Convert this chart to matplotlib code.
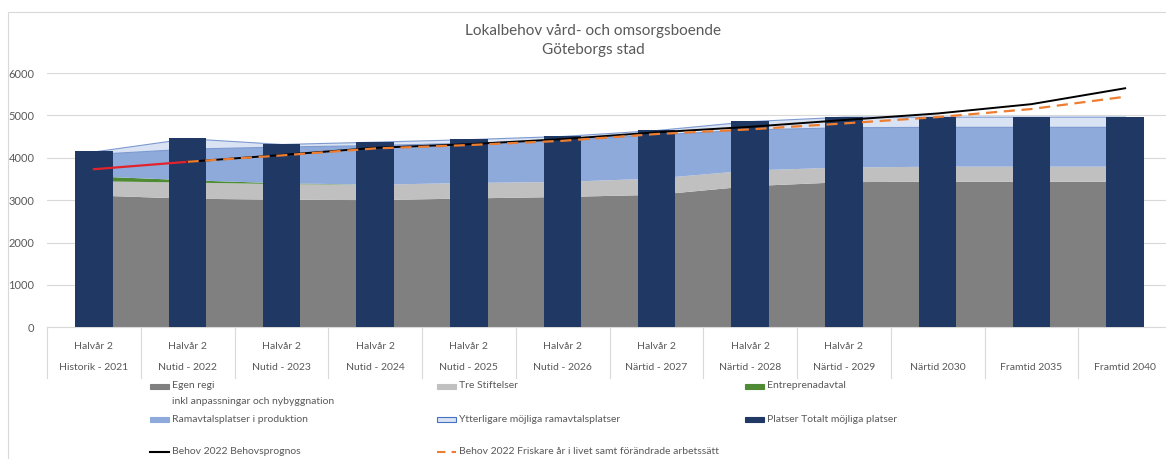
import matplotlib
matplotlib.use("Agg")
import matplotlib.pyplot as plt
from matplotlib.patches import Rectangle
from matplotlib.lines import Line2D
import matplotlib.transforms as mtransforms
import numpy as np

plt.rcParams['font.family'] = ['Lato', 'DejaVu Sans']

# Kategorier (två nivåer)
halvar = ['Halvår 2'] * 9 + [''] * 3
perioder = ['Historik - 2021', 'Nutid - 2022', 'Nutid - 2023', 'Nutid - 2024', 'Nutid - 2025',
            'Nutid - 2026', 'Närtid - 2027', 'Närtid - 2028', 'Närtid - 2029',
            'Närtid 2030', 'Framtid 2035', 'Framtid 2040']

# Staplade ytor
egen_regi = [3110, 3035, 3010, 3000, 3040, 3075, 3125, 3330, 3425, 3435, 3435, 3435]
tre_stiftelser = [335, 380, 368, 365, 365, 355, 385, 370, 345, 355, 355, 355]
entreprenad = [115, 55, 20, 0, 0, 0, 0, 0, 0, 0, 0, 0]
ramavtal = [530, 745, 867, 935, 950, 990, 1040, 970, 950, 940, 940, 940]
ytterligare = [60, 245, 60, 80, 85, 95, 105, 195, 250, 240, 240, 240]

# Staplar
platser_totalt = [4150, 4460, 4325, 4380, 4440, 4515, 4655, 4865, 4970, 4970, 4970, 4970]

# Linjer
historik = [3730, 3905]
behovsprognos = [np.nan, 3905, 4065, 4235, 4320, 4440, 4600, 4730, 4890, 5045, 5265, 5640]
friskare = [np.nan, 3905, 4055, 4220, 4300, 4400, 4560, 4670, 4810, 4960, 5150, 5440]

W, H = 1166, 459
fig = plt.figure(figsize=(W / 100, H / 100), dpi=100)

def fx(x):
    return x / W

def fy(y):
    return 1 - y / H

ax = fig.add_axes([fx(47), fy(327.3), fx(1172) - fx(47), fy(73) - fy(327.3)])
x = np.arange(len(perioder))

c_egen = '#808080'
c_stift = '#c0c0c0'
c_entr = '#4f8a35'
c_ram = '#8eaadb'
c_ytt = '#dae3f3'
c_bar = '#1f3864'
txt = '#595959'

polys = ax.stackplot(x, egen_regi, tre_stiftelser, entreprenad, ramavtal, ytterligare,
                     colors=[c_egen, c_stift, c_entr, c_ram, c_ytt], zorder=1)
polys[4].set_edgecolor('#7d9ad0')
polys[4].set_linewidth(0.8)
for p in polys[:4]:
    p.set_linewidth(0)

ax.bar(x, platser_totalt, width=0.4, color=c_bar, zorder=3)

ax.plot(x[:2], historik, color='#e3232b', lw=1.6, zorder=4)
ax.plot(x, behovsprognos, color='black', lw=1.4, zorder=4)
ax.plot(x, friskare, color='#ed7d31', lw=1.6, ls=(0, (5, 3)), zorder=5)

ax.set_xlim(-0.5, 11.5)
ax.set_ylim(0, 6000)
ax.set_yticks(range(0, 6001, 1000))
ax.tick_params(axis='y', length=0, pad=9, labelsize=8, labelcolor=txt)
ax.set_xticks([])
ax.grid(axis='y', color='#d9d9d9', lw=0.8, zorder=0)
ax.set_axisbelow(True)
for s in ['top', 'right', 'left']:
    ax.spines[s].set_visible(False)
ax.spines['bottom'].set_color('#d9d9d9')

# Kategorietiketter i två nivåer
trans = mtransforms.blended_transform_factory(ax.transData, ax.transAxes)
for i in range(len(perioder)):
    if halvar[i]:
        ax.text(i, -0.075, halvar[i], transform=trans, ha='center', va='center',
                fontsize=7.5, color=txt)
    ax.text(i, -0.157, perioder[i], transform=trans, ha='center', va='center',
            fontsize=7.5, color=txt)
for k in range(len(perioder) + 1):
    ax.plot([k - 0.5, k - 0.5], [0, -0.2], transform=trans, color='#d9d9d9',
            lw=0.8, clip_on=False)

# Titel
fig.text(fx(593), fy(31), 'Lokalbehov vård- och omsorgsboende', ha='center', va='center',
         fontsize=11, color=txt)
fig.text(fx(593), fy(50), 'Göteborgs stad', ha='center', va='center', fontsize=11, color=txt)

# Ram runt diagrammet
fig.add_artist(Rectangle((fx(8), fy(480)), fx(1250), fy(12) - fy(480), transform=fig.transFigure,
                         fill=False, edgecolor='#d9d9d9', lw=0.8))

# Förklaring
def patch_entry(x0, y, color, label, edge=None):
    fig.add_artist(Rectangle((fx(x0), fy(y + 2.5)), fx(19), fy(y - 2.5) - fy(y + 2.5),
                             transform=fig.transFigure, facecolor=color,
                             edgecolor=edge if edge else color, lw=0.8))
    fig.text(fx(x0 + 22), fy(y), label, ha='left', va='center', fontsize=7.5, color=txt)

def line_entry(x0, y, color, label, ls='-'):
    fig.add_artist(Line2D([fx(x0), fx(x0 + 19)], [fy(y), fy(y)], transform=fig.transFigure,
                          color=color, lw=1.5, ls=ls))
    fig.text(fx(x0 + 22), fy(y), label, ha='left', va='center', fontsize=7.5, color=txt)

patch_entry(150, 386, c_egen, 'Egen regi')
fig.text(fx(172), fy(402), 'inkl anpassningar och nybyggnation', ha='left', va='center',
         fontsize=7.5, color=txt)
patch_entry(437, 386, c_stift, 'Tre Stiftelser')
patch_entry(745, 386, c_entr, 'Entreprenadavtal')
patch_entry(150, 419, c_ram, 'Ramavtalsplatser i produktion')
patch_entry(437, 419, c_ytt, 'Ytterligare möjliga ramavtalsplatser', edge='#4472c4')
patch_entry(745, 419, c_bar, 'Platser Totalt möjliga platser')
line_entry(150, 452, 'black', 'Behov 2022 Behovsprognos')
line_entry(437, 452, '#ed7d31', 'Behov 2022 Friskare år i livet samt förändrade arbetssätt',
           ls=(0, (4, 3)))

fig.savefig('out.png', dpi=100)
